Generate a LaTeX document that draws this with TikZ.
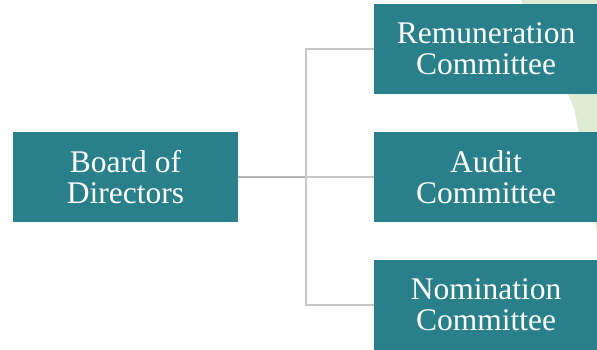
\documentclass[tikz,border=0pt]{standalone}
\usepackage{fontspec}
\setmainfont{Liberation Serif}
\definecolor{teal}{RGB}{41,128,138}
\definecolor{leaf}{RGB}{222,236,212}
\definecolor{linkgray}{RGB}{200,200,200}
\definecolor{linkdark}{RGB}{180,180,180}
\tikzset{
  unitbox/.style={fill=teal, text=white, minimum width=225pt, minimum height=90pt,
    inner sep=0pt, align=center, font=\fontsize{31.5}{31}\selectfont},
  link/.style={draw=linkgray, line width=1.1pt},
}
\begin{document}
\begin{tikzpicture}[x=1pt,y=-1pt]
  \useasboundingbox (0,0) rectangle (597,349);
  \clip (0,0) rectangle (597,349);
  % pale green leaf shape at the right edge
  \fill[leaf] plot[smooth] coordinates {(520,-2) (568,94) (579,132) (596,228) (600,260)}
    -- (600,-2) -- cycle;
  % boxes
  \node[unitbox] (board) at (125.5,177) {Board of\\Directors};
  \node[unitbox, minimum width=224pt] (rem) at (486,49) {Remuneration\\Committee};
  \node[unitbox, minimum width=224pt] (aud) at (486,177) {Audit\\Committee};
  \node[unitbox, minimum width=224pt] (nom) at (486,305) {Nomination\\Committee};
  % connectors
  \coordinate (j) at (306,177);
  \draw[link, draw=linkdark] (board.east) -- (j);
  \draw[link] (j) -- (aud.west);
  \draw[link] (rem.west) -| (j);
  \draw[link] (nom.west) -| (j);
\end{tikzpicture}
\end{document}
